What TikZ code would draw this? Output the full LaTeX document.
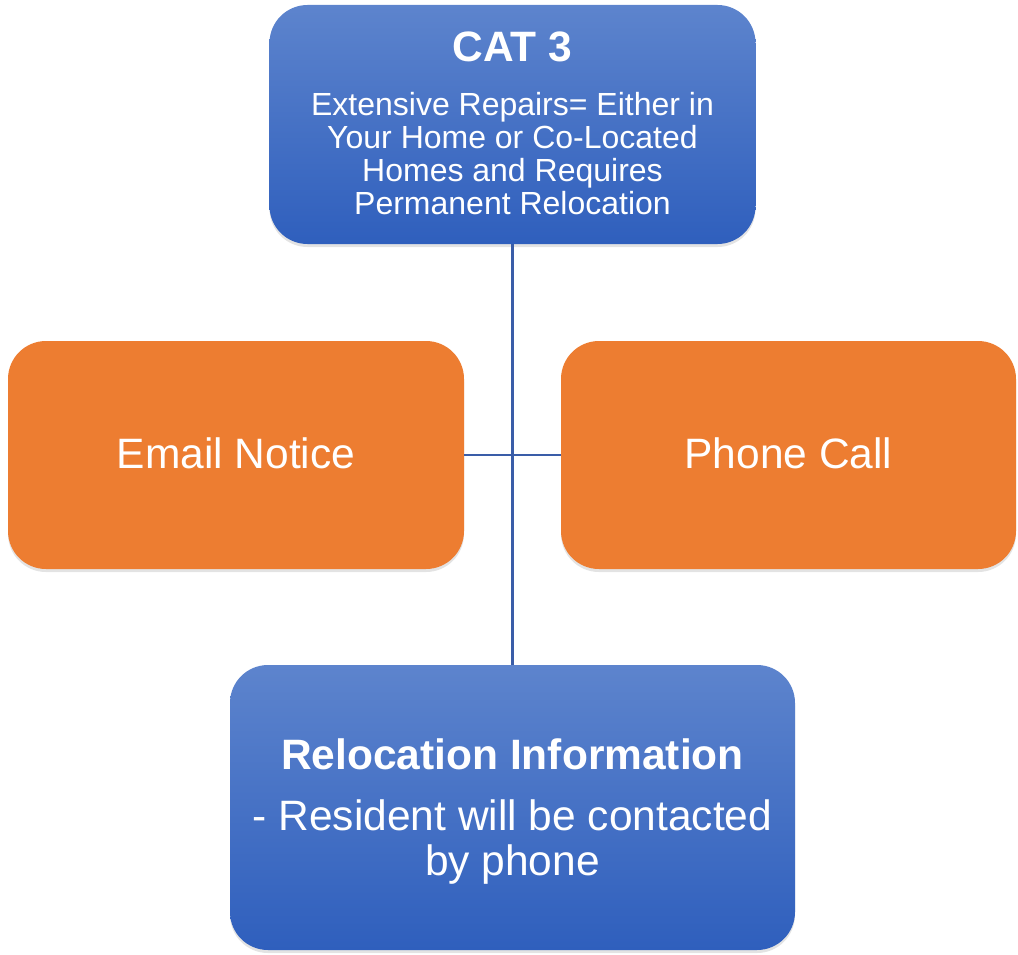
\documentclass[tikz,border=0pt]{standalone}
\usepackage{fontspec}
\setmainfont{Liberation Sans}
\usetikzlibrary{shadows}
\definecolor{bluetop}{HTML}{5D84CD}
\definecolor{bluebot}{HTML}{2F5FBD}
\definecolor{orangefill}{HTML}{ED7D31}
\definecolor{linkblue}{HTML}{3A5DA8}
\tikzset{
  box/.style={rectangle, rounded corners=38pt, draw=none, inner sep=0pt,
    drop shadow={opacity=0.22, shadow xshift=0pt, shadow yshift=-3pt}},
  bluebox/.style={box, top color=bluetop, bottom color=bluebot},
  orangebox/.style={box, fill=orangefill},
  bigtxt/.style={text=white, anchor=base, inner sep=0pt, font=\fontsize{42.5}{48}\selectfont},
  bigbold/.style={bigtxt, font=\fontsize{42.5}{48}\selectfont\bfseries},
  bodytxt/.style={text=white, anchor=base, inner sep=0pt, font=\fontsize{32}{33}\selectfont},
  link/.style={draw=linkblue, line width=2.2pt}
}
\begin{document}
\begin{tikzpicture}[x=1pt,y=-1pt]
\useasboundingbox (0,0) rectangle (1018,955);
% boxes
\node[bluebox, minimum width=486pt, minimum height=239pt] (cat) at (512.5,124.5) {};
\node[orangebox, minimum width=456pt, minimum height=228pt] (email) at (236,455) {};
\node[orangebox, minimum width=455pt, minimum height=228pt] (phone) at (788.5,455) {};
\node[bluebox, minimum width=565pt, minimum height=285pt] (reloc) at (512.5,807.5) {};
% connectors
\draw[link] (cat.south) -- (reloc.north);
\draw[link] (email.east) -- (phone.west);
% texts
\node[bigbold] (t1) at (512.5,62) {CAT 3};
\node[bodytxt] (t2) at (512.5,116) {Extensive Repairs= Either in};
\node[bodytxt] (t3) at (512.5,148.5) {Your Home or Co-Located};
\node[bodytxt] (t4) at (512.5,181.5) {Homes and Requires};
\node[bodytxt] (t5) at (512.5,214.5) {Permanent Relocation};
\node[bigtxt] (t6) at (236,468) {Email Notice};
\node[bigtxt] (t7) at (788.5,468) {Phone Call};
\node[bigbold] (t8) at (512.5,769) {Relocation Information};
\node[bigtxt] (t9) at (512.5,830) {- Resident will be contacted};
\node[bigtxt] (t10) at (512.5,875) {by phone};
\end{tikzpicture}
\end{document}
